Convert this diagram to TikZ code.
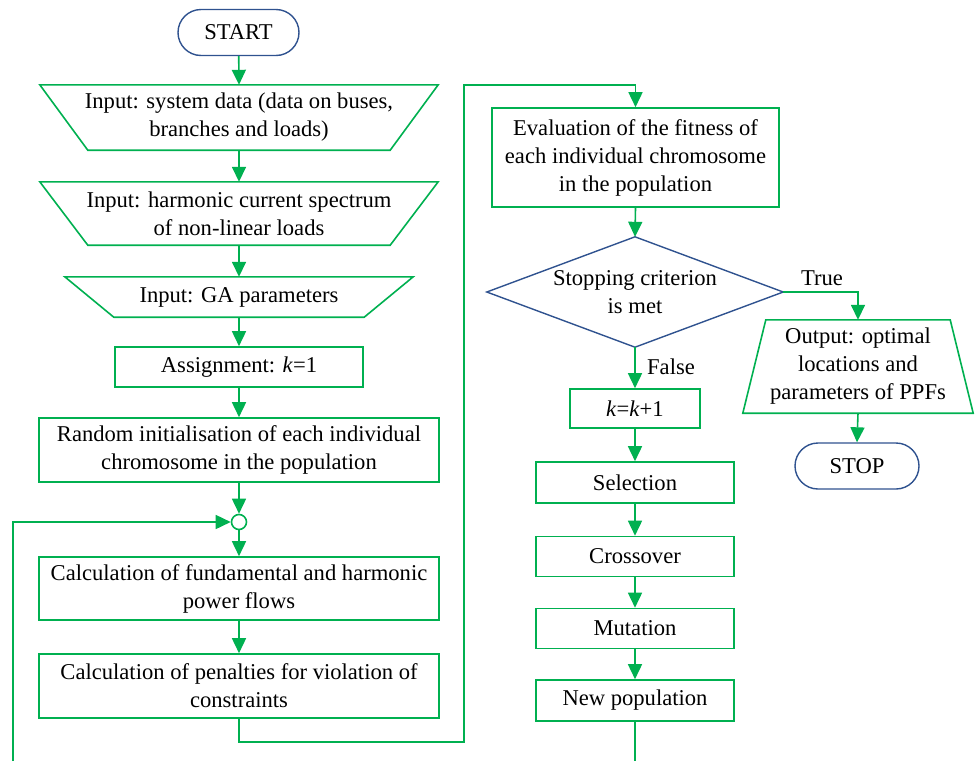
\documentclass[tikz,border=0pt]{standalone}
\usepackage{fontspec}
\setmainfont{Liberation Serif}
\usetikzlibrary{arrows.meta,calc}
\definecolor{fgreen}{RGB}{0,176,80}
\definecolor{fblue}{RGB}{47,82,143}
\begin{document}
\begin{tikzpicture}[x=1pt,y=-1pt,
  every node/.style={font=\fontsize{22.6}{28}\selectfont, align=center, inner sep=0pt},
  gbox/.style={draw=fgreen, line width=1.6pt, rectangle},
  tzbox/.style={rectangle, draw=none},
  term/.style={draw=fblue, line width=1.4pt, rectangle, rounded corners=23pt, minimum height=46pt},
  outl/.style={draw=fgreen, line width=1.6pt, line join=miter},
  arr/.style={draw=fgreen, line width=1.6pt, -{Triangle[width=14pt,length=15pt]}},
  ln/.style={draw=fgreen, line width=1.6pt}
]
\useasboundingbox (0,0) rectangle (975,761);

% left column
\node[term, minimum width=121pt] (start) at (238.5,32.5) {START};
\node[tzbox, minimum width=398pt, minimum height=65pt] (in1) at (239,117.5) {Input: system data (data on buses,\\branches and loads)};
\node[tzbox, minimum width=398pt, minimum height=63pt] (in2) at (239,213.5) {Input: harmonic current spectrum\\of non-linear loads};
\node[tzbox, minimum width=348pt, minimum height=40pt] (in3) at (239,297) {Input: GA parameters};
\node[gbox, minimum width=248pt, minimum height=40pt] (asg) at (239,367) {Assignment: \textit{k}=1};
\node[gbox, minimum width=400pt, minimum height=64pt] (init) at (239,450) {Random initialisation of each individual\\chromosome in the population};
\node[draw=fgreen, line width=1.6pt, circle, minimum size=15pt] (circ) at (239,522) {};
\node[gbox, minimum width=400pt, minimum height=63pt] (fund) at (239,588.5) {Calculation of fundamental and harmonic\\power flows};
\node[gbox, minimum width=400pt, minimum height=64pt] (pen) at (239,686) {Calculation of penalties for violation of\\constraints};

% trapezoid outlines (wide top)
\draw[outl] (in1.north west) -- (in1.north east) -- ($(in1.south east)+(-48,0)$) -- ($(in1.south west)+(48,0)$) -- cycle;
\draw[outl] (in2.north west) -- (in2.north east) -- ($(in2.south east)+(-48,0)$) -- ($(in2.south west)+(48,0)$) -- cycle;
\draw[outl] (in3.north west) -- (in3.north east) -- ($(in3.south east)+(-49,0)$) -- ($(in3.south west)+(49,0)$) -- cycle;

% right column
\node[gbox, minimum width=287pt, minimum height=99pt] (eval) at (635.5,157.5) {Evaluation of the fitness of\\each individual chromosome\\in the population};
\node[tzbox, minimum width=296pt, minimum height=110pt] (dm) at (635,292) {Stopping criterion\\is met};
\draw[draw=fblue, line width=1.4pt, line join=miter] (dm.north) -- (dm.east) -- (dm.south) -- (dm.west) -- cycle;
\node[gbox, minimum width=130pt, minimum height=39pt] (kk) at (635,408.5) {\textit{k}=\textit{k}+1};
\node[gbox, minimum width=198pt, minimum height=41pt] (sel) at (635,482.5) {Selection};
\node[gbox, minimum width=198pt, minimum height=40pt] (cross) at (635,556.5) {Crossover};
\node[gbox, minimum width=198pt, minimum height=40pt] (mut) at (635,628.5) {Mutation};
\node[gbox, minimum width=198pt, minimum height=41pt] (newp) at (635,700.5) {New population};

\node[tzbox, minimum width=230pt, minimum height=93pt] (out) at (858,366.5) {Output: optimal\\locations and\\parameters of PPFs};
\draw[outl] ($(out.north west)+(23,0)$) -- ($(out.north east)+(-23,0)$) -- (out.south east) -- (out.south west) -- cycle;
\node[term, minimum width=124pt] (stop) at (857,466) {STOP};

% labels
\node (ltrue) at (822,278) {True};
\node (lfalse) at (671,367) {False};

% coordinates
\coordinate (la) at (464,742);
\coordinate (lb) at (464,85);
\coordinate (lbot) at (13,761);
\coordinate (nbot) at (635,761);

% connectors
\draw[arr] (start) -- (in1.north);
\draw[arr] (in1.south) -- (in2.north);
\draw[arr] (in2.south) -- (in3.north);
\draw[arr] (in3.south) -- (asg.north);
\draw[arr] (asg.south) -- (init.north);
\draw[arr] (init.south) -- (circ.north);
\draw[arr] (circ.south) -- (fund.north);
\draw[arr] (fund.south) -- (pen.north);
\draw[arr] (pen.south) |- (la) -- (lb) -| (eval.north);
\draw[arr] (lbot) |- (circ.west);
\draw[arr] (eval.south) -- (dm.north);
\draw[arr] (dm.east) -| (out.north);
\draw[arr] (out.south) -- (stop.north);
\draw[arr] (dm.south) -- (kk.north);
\draw[arr] (kk.south) -- (sel.north);
\draw[arr] (sel.south) -- (cross.north);
\draw[arr] (cross.south) -- (mut.north);
\draw[arr] (mut.south) -- (newp.north);
\draw[ln] (newp.south) -- (nbot);
\end{tikzpicture}
\end{document}
